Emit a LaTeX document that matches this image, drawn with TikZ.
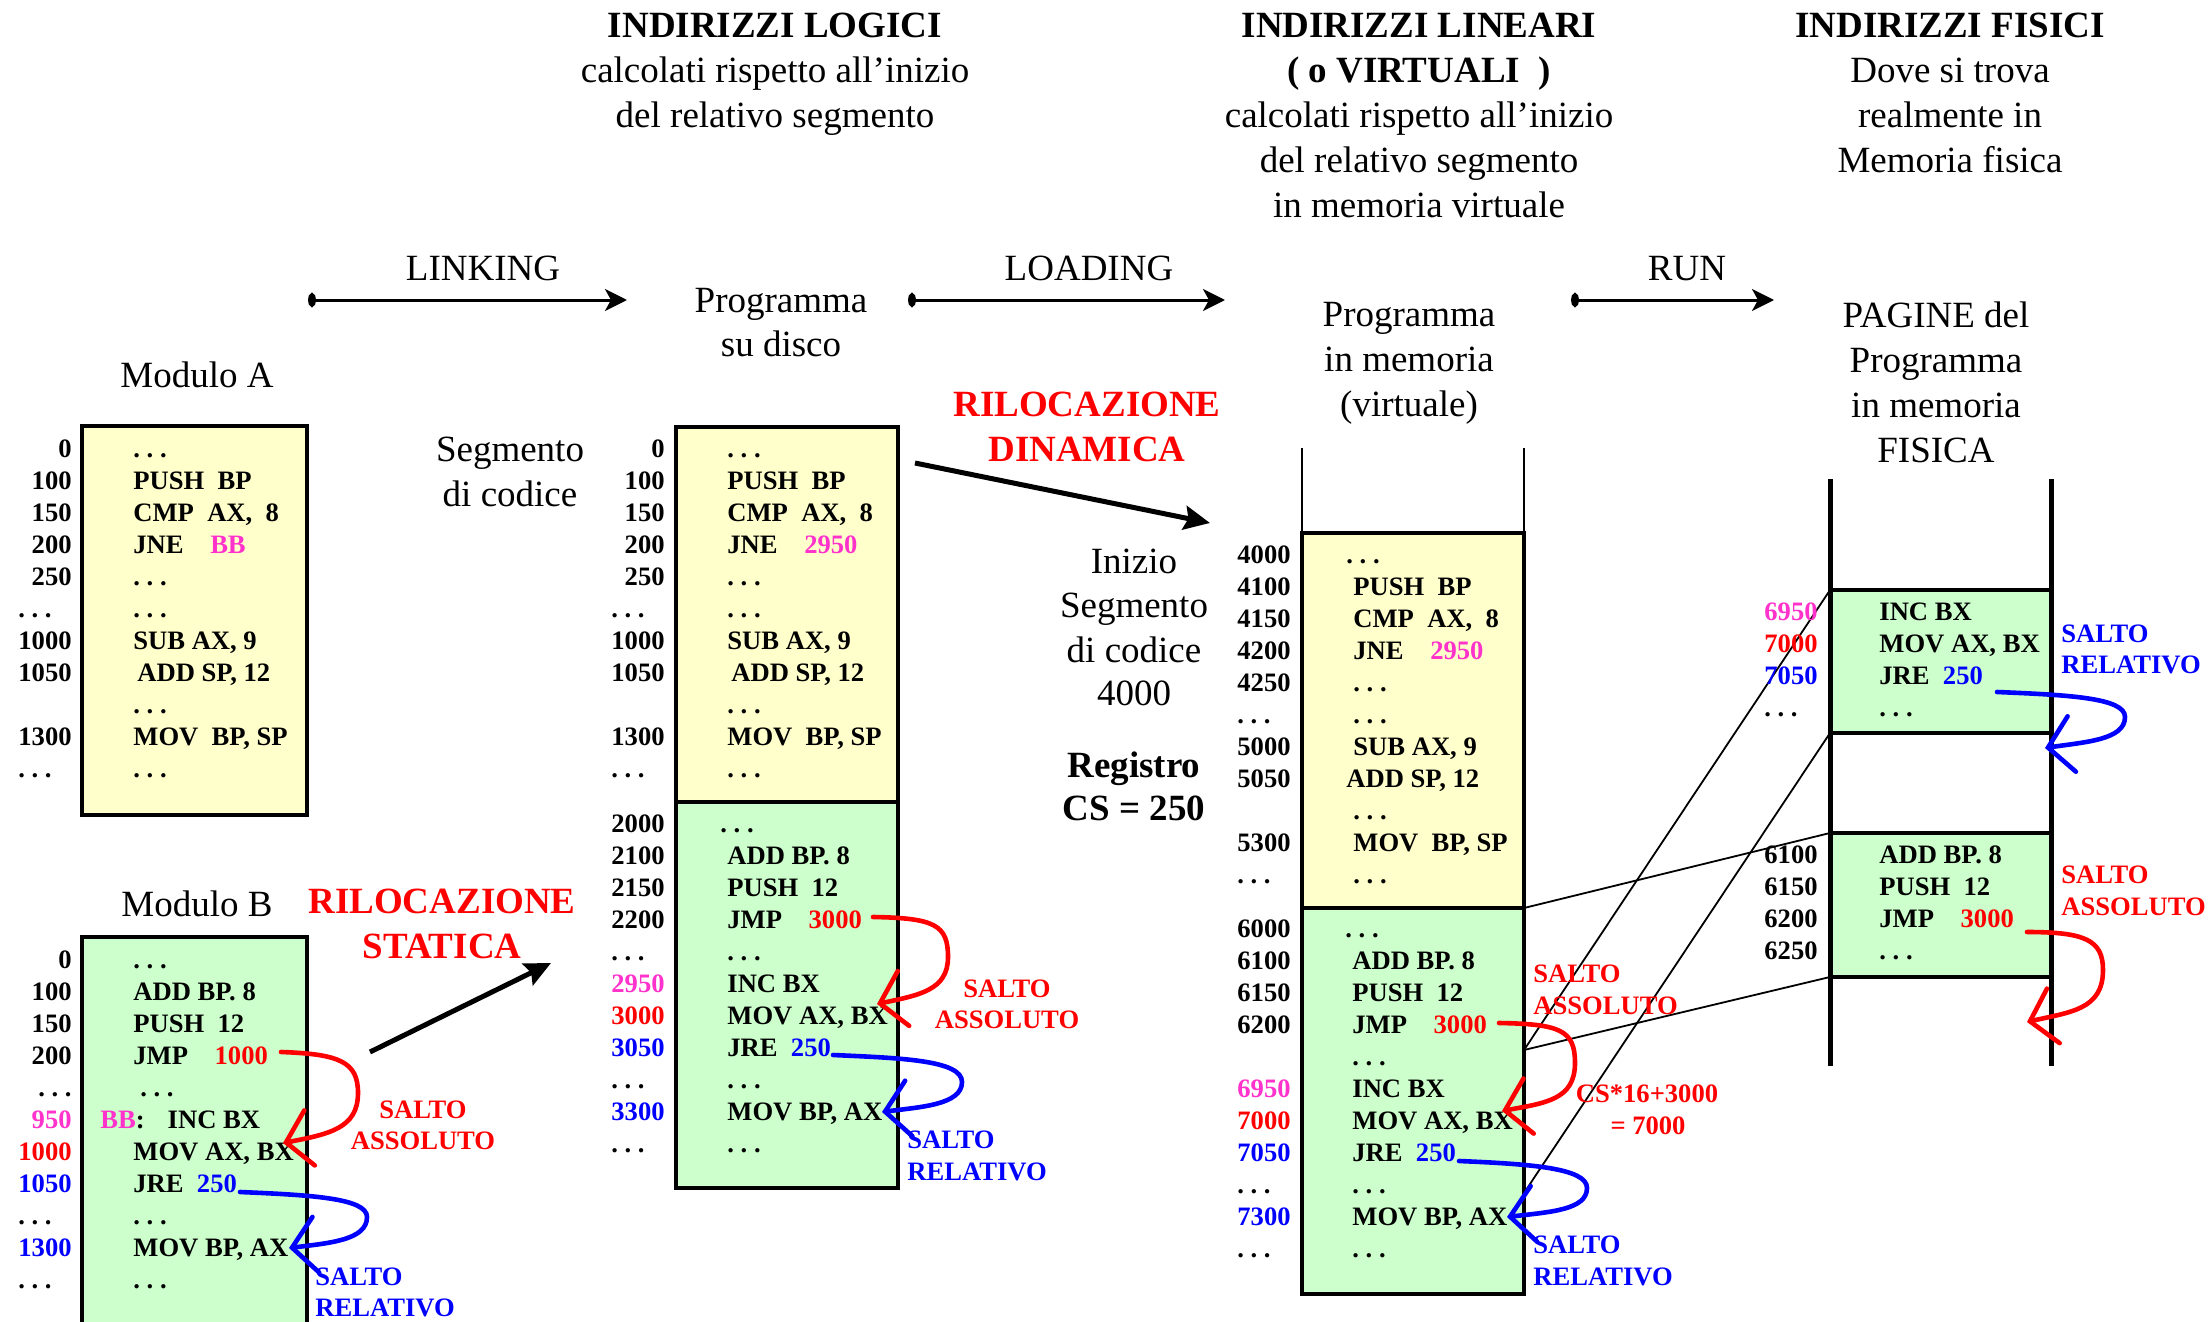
\documentclass[tikz,border=0pt]{standalone}
\usepackage{fontspec}
\setmainfont{Liberation Serif}
\usetikzlibrary{arrows.meta}
\definecolor{yel}{RGB}{255,255,204}
\definecolor{grn}{RGB}{204,255,204}
\definecolor{pinkc}{RGB}{255,51,204}
\definecolor{redc}{RGB}{255,0,0}
\definecolor{bluec}{RGB}{0,0,255}
\frenchspacing
\newcommand\cf{\fontsize{13.3}{16}\selectfont\bfseries}
\newcommand\hf{\fontsize{18.5}{22}\selectfont}
\newcommand\dd{.\ .\ .}
\newcommand\ld{.\ .\ .\hspace*{10pt}}
\newcommand\Rd[1]{\textcolor{redc}{#1}}
\newcommand\Bl[1]{\textcolor{bluec}{#1}}
\newcommand\Pk[1]{\textcolor{pinkc}{#1}}
% #1 prefix, #2 label x, #3 code x, #4 first baseline, #5 rows
\newcommand\memrows[5]{%
  \foreach \l/\c [count=\i from 0] in {#5} {%
    \node[lab] (#1l\i) at (#2, {#4+32*\i}) {\l};
    \node[code] (#1c\i) at (#3, {#4+32*\i}) {\c};
  }}
\begin{document}
\begin{tikzpicture}[x=0.5pt,y=-0.5pt,
  lab/.style={font=\cf, anchor=base east, inner sep=0pt},
  code/.style={font=\cf, anchor=base west, inner sep=0pt},
  salto/.style={font=\cf, inner sep=0pt},
  hdr/.style={font=\hf, anchor=base, inner sep=0pt},
  hdrb/.style={font=\hf\bfseries, anchor=base, inner sep=0pt},
  big/.style={font=\hf\bfseries, text=redc, anchor=base, inner sep=0pt},
  box/.style={line width=2pt},
  jmpR/.style={draw=redc, line width=2.3pt, line cap=round, -{Straight Barb[length=12pt,width=28pt,line cap=round]}},
  jmpB/.style={draw=bluec, line width=2.3pt, line cap=round, -{Straight Barb[length=12pt,width=28pt,line cap=round]}},
  phase/.style={line width=1.5pt, {Ellipse[length=4pt,width=7pt]}-{Stealth[length=11pt,width=11pt,inset=3pt]}},
  reloc/.style={line width=2.5pt, -{Stealth[length=13pt,width=12pt,inset=2pt]}},
  thin/.style={line width=0.9pt},
]
\useasboundingbox (0,0) rectangle (2208,1322);
\fill[white] (0,0) rectangle (2208,1322);
\clip (0,0) rectangle (2208,1322);

% ---------- headers ----------
\node[hdrb] (tl1) at (775,38) {INDIRIZZI LOGICI};
\node[hdr] (tl2) at (775,83) {calcolati rispetto all’inizio};
\node[hdr] (tl3) at (775,128) {del relativo segmento};
\node[hdrb] (tv1) at (1419,38) {INDIRIZZI LINEARI};
\node[hdrb] (tv2) at (1419,83) {( o VIRTUALI\ \ )};
\node[hdr] (tv3) at (1419,128) {calcolati rispetto all’inizio};
\node[hdr] (tv4) at (1419,173) {del relativo segmento};
\node[hdr] (tv5) at (1419,218) {in memoria virtuale};
\node[hdrb] (tf1) at (1950,38) {INDIRIZZI FISICI};
\node[hdr] (tf2) at (1950,83) {Dove si trova};
\node[hdr] (tf3) at (1950,128) {realmente in};
\node[hdr] (tf4) at (1950,173) {Memoria fisica};

% ---------- phases ----------
\node[hdr] (link) at (483,280) {LINKING};
\node[hdr] (load) at (1089,280) {LOADING};
\node[hdr] (run) at (1687,280) {RUN};
\coordinate (lk1) at (308,300); \coordinate (lk2) at (627,300);
\coordinate (ld1) at (908,300); \coordinate (ld2) at (1225,300);
\coordinate (rn1) at (1571,300); \coordinate (rn2) at (1774,300);
\draw[phase] (lk1) -- (lk2);
\draw[phase] (ld1) -- (ld2);
\draw[phase] (rn1) -- (rn2);

\node[hdr] (pd1) at (781,312) {Programma};
\node[hdr] (pd2) at (781,356) {su disco};
\node[hdr] (pv1) at (1409,326) {Programma};
\node[hdr] (pv2) at (1409,371) {in memoria};
\node[hdr] (pv3) at (1409,416) {(virtuale)};
\node[hdr] (pf1) at (1936,327) {PAGINE del};
\node[hdr] (pf2) at (1936,372) {Programma};
\node[hdr] (pf3) at (1936,417) {in memoria};
\node[hdr] (pf4) at (1936,462) {FISICA};
\node[hdr] (ma) at (197,387) {Modulo A};
\node[hdr] (mb) at (197,916) {Modulo B};
\node[hdr] (sc1) at (510,461) {Segmento};
\node[hdr] (sc2) at (510,506) {di codice};
\node[hdr] (is1) at (1134,573) {Inizio};
\node[hdr] (is2) at (1134,617) {Segmento};
\node[hdr] (is3) at (1134,662) {di codice};
\node[hdr] (is4) at (1134,705) {4000};
\node[hdrb] (rg1) at (1134,777) {Registro};
\node[hdrb] (rg2) at (1134,820) {CS = 250};
\node[big] (rd1) at (1087,416) {RILOCAZIONE};
\node[big] (rd2) at (1087,461) {DINAMICA};
\node[big] (rs1) at (442,913) {RILOCAZIONE};
\node[big] (rs2) at (442,958) {STATICA};

% ---------- boxes ----------
\coordinate (a1) at (82,426); \coordinate (a2) at (307,815);
\coordinate (b1) at (82,937); \coordinate (b2) at (307,1345);
\coordinate (d1) at (676,427); \coordinate (d2) at (898,802); \coordinate (d3) at (676,802); \coordinate (d4) at (898,1188);
\coordinate (v1) at (1302,533); \coordinate (v2) at (1524,908); \coordinate (v3) at (1302,908); \coordinate (v4) at (1524,1294);
\coordinate (vt1) at (1302,448); \coordinate (vt2) at (1524,448); \coordinate (vt3) at (1524,533);
\draw[box, fill=yel] (a1) rectangle (a2);
\draw[box, fill=grn] (b1) rectangle (b2);
\draw[box, fill=yel] (d1) rectangle (d2);
\draw[box, fill=grn] (d3) rectangle (d4);
\draw[box, fill=yel] (v1) rectangle (v2);
\draw[box, fill=grn] (v3) rectangle (v4);
\draw[thin] (vt1) -- (v1);
\draw[thin] (vt2) -- (vt3);

% physical memory
\coordinate (pl1) at (1830,479); \coordinate (pl2) at (1830,1066);
\coordinate (pr1) at (2051,479); \coordinate (pr2) at (2051,1066);
\coordinate (p1tl) at (1830,590); \coordinate (p1br) at (2051,733); \coordinate (p1bl) at (1830,733);
\coordinate (p2tl) at (1830,833); \coordinate (p2br) at (2051,977); \coordinate (p2bl) at (1830,977);
\draw[box, fill=grn] (p1tl) rectangle (p1br);
\draw[box, fill=grn] (p2tl) rectangle (p2br);
\draw[line width=2.5pt] (pl1) -- (pl2);
\draw[line width=2.5pt] (pr1) -- (pr2);

% page mapping lines
\coordinate (vb1) at (1524,908); \coordinate (vb2) at (1524,1050); \coordinate (vb3) at (1524,1193);
\draw[thin] (vb1) -- (p2tl);
\draw[thin] (vb2) -- (p2bl);
\draw[thin] (vb2) -- (p1tl);
\draw[thin] (vb3) -- (p1bl);

% ---------- contents ----------
\memrows{A}{72}{133}{457}{0/{\dd}, 100/{PUSH\ \ BP}, 150/{CMP\ \ AX,\ \ 8}, 200/{JNE\quad\Pk{BB}}, 250/{\dd}, \ld/{\dd}, 1000/{SUB AX, 9}, 1050/{\hspace*{2pt}ADD SP, 12}, \relax/{\dd}, 1300/{MOV\ \ BP, SP}, \ld/{\dd}}
\memrows{B}{72}{133}{968}{0/{\dd}, 100/{ADD BP. 8}, 150/{PUSH\ \ 12}, 200/{JMP\quad\Rd{1000}}, \dd/{\hspace*{3.5pt}\dd}, \Pk{950}/{\hspace*{-16.5pt}\Pk{BB}:\hspace*{11.5pt}INC BX}, \Rd{1000}/{MOV AX, BX}, \Bl{1050}/{JRE\ \ \Bl{250}}, \ld/{\dd}, \Bl{1300}/{MOV BP, AX}, \ld/{\dd}}
\memrows{D}{665}{727}{457}{0/{\dd}, 100/{PUSH\ \ BP}, 150/{CMP\ \ AX,\ \ 8}, 200/{JNE\quad\Pk{2950}}, 250/{\dd}, \ld/{\dd}, 1000/{SUB AX, 9}, 1050/{\hspace*{2pt}ADD SP, 12}, \relax/{\dd}, 1300/{MOV\ \ BP, SP}, \ld/{\dd}}
\memrows{E}{665}{727}{832}{2000/{\hspace*{-3.5pt}\dd}, 2100/{ADD BP. 8}, 2150/{PUSH\ \ 12}, 2200/{JMP\quad\Rd{3000}}, \ld/{\dd}, \Pk{2950}/{INC BX}, \Rd{3000}/{MOV AX, BX}, \Bl{3050}/{JRE\ \ \Bl{250}}, \ld/{\dd}, \Bl{3300}/{MOV BP, AX}, \ld/{\dd}}
\memrows{V}{1291}{1353}{563}{4000/{\hspace*{-3.5pt}\dd}, 4100/{PUSH\ \ BP}, 4150/{CMP\ \ AX,\ \ 8}, 4200/{JNE\quad\Pk{2950}}, 4250/{\dd}, \ld/{\dd}, 5000/{SUB AX, 9}, 5050/{\hspace*{-3.5pt}ADD SP, 12}, \relax/{\dd}, 5300/{MOV\ \ BP, SP}, \ld/{\dd}}
\memrows{W}{1291}{1352}{937}{6000/{\hspace*{-3.5pt}\dd}, 6100/{ADD BP. 8}, 6150/{PUSH\ \ 12}, 6200/{JMP\quad\Rd{3000}}, \relax/{\dd}, \Pk{6950}/{INC BX}, \Rd{7000}/{MOV AX, BX}, \Bl{7050}/{JRE\ \ \Bl{250}}, \ld/{\dd}, \Bl{7300}/{MOV BP, AX}, \ld/{\dd}}
\memrows{P}{1818}{1879}{620}{\Pk{6950}/{INC BX}, \Rd{7000}/{MOV AX, BX}, \Bl{7050}/{JRE\ \ \Bl{250}}, \ld/{\dd}}
\memrows{Q}{1818}{1879}{863}{6100/{ADD BP. 8}, 6150/{PUSH\ \ 12}, 6200/{JMP\quad\Rd{3000}}, 6250/{\dd}}

% ---------- jump labels ----------
\node[salto, text=redc, anchor=base] (sB1) at (423,1118) {SALTO};
\node[salto, text=redc, anchor=base] (sB2) at (423,1149) {ASSOLUTO};
\node[salto, text=bluec, anchor=base west] (rB1) at (315,1285) {SALTO};
\node[salto, text=bluec, anchor=base west] (rB2) at (315,1316) {RELATIVO};
\node[salto, text=redc, anchor=base] (sD1) at (1007,997) {SALTO};
\node[salto, text=redc, anchor=base] (sD2) at (1007,1028) {ASSOLUTO};
\node[salto, text=bluec, anchor=base west] (rD1) at (907,1148) {SALTO};
\node[salto, text=bluec, anchor=base west] (rD2) at (907,1180) {RELATIVO};
\node[salto, text=redc, anchor=base west] (sV1) at (1533,982) {SALTO};
\node[salto, text=redc, anchor=base west] (sV2) at (1533,1014) {ASSOLUTO};
\node[salto, text=redc, anchor=base] (cs1) at (1647,1102) {CS*16+3000};
\node[salto, text=redc, anchor=base] (cs2) at (1648,1134) {= 7000};
\node[salto, text=bluec, anchor=base west] (rV1) at (1533,1253) {SALTO};
\node[salto, text=bluec, anchor=base west] (rV2) at (1533,1285) {RELATIVO};
\node[salto, text=bluec, anchor=base west] (rP1) at (2061,642) {SALTO};
\node[salto, text=bluec, anchor=base west] (rP2) at (2061,673) {RELATIVO};
\node[salto, text=redc, anchor=base west] (sP1) at (2061,883) {SALTO};
\node[salto, text=redc, anchor=base west] (sP2) at (2061,915) {ASSOLUTO};

% ---------- relocation arrows ----------
\coordinate (st1) at (370,1052); \coordinate (st2) at (551,963);
\coordinate (dy1) at (915,463); \coordinate (dy2) at (1210,523);
\draw[reloc] (st1) -- (st2);
\draw[reloc] (dy1) -- (dy2);

% ---------- jumps ----------
\coordinate (bRs) at (281,1052); \coordinate (bRt) at (283,1143);
\draw[jmpR] (bRs) .. controls (340,1054) and (358,1062) .. (358,1093) .. controls (358,1128) and (330,1134) .. (bRt);
\coordinate (bBs) at (240,1192); \coordinate (bBt) at (289,1248);
\draw[jmpB] (bBs) .. controls (310,1195) and (367,1198) .. (367,1217) .. controls (367,1240) and (330,1243) .. (bBt);
\coordinate (dRs) at (873,917); \coordinate (dRt) at (877,1004);
\draw[jmpR] (dRs) .. controls (935,918) and (948,925) .. (948,957) .. controls (948,990) and (920,995) .. (dRt);
\coordinate (dBs) at (833,1055); \coordinate (dBt) at (882,1112);
\draw[jmpB] (dBs) .. controls (900,1058) and (962,1060) .. (962,1082) .. controls (962,1105) and (920,1107) .. (dBt);
\coordinate (vRs) at (1499,1023); \coordinate (vRt) at (1502,1111);
\draw[jmpR] (vRs) .. controls (1560,1024) and (1575,1030) .. (1575,1063) .. controls (1575,1100) and (1545,1103) .. (vRt);
\coordinate (vBs) at (1459,1161); \coordinate (vBt) at (1507,1217);
\draw[jmpB] (vBs) .. controls (1530,1164) and (1587,1168) .. (1587,1188) .. controls (1587,1210) and (1550,1212) .. (vBt);
\coordinate (pBs) at (1997,692); \coordinate (pBt) at (2045,748);
\draw[jmpB] (pBs) .. controls (2070,695) and (2125,698) .. (2125,717) .. controls (2125,740) and (2085,742) .. (pBt);
\coordinate (pRs) at (2027,932); \coordinate (pRt) at (2027,1022);
\draw[jmpR] (pRs) .. controls (2085,932) and (2103,940) .. (2103,970) .. controls (2103,1010) and (2070,1012) .. (pRt);
\end{tikzpicture}
\end{document}
